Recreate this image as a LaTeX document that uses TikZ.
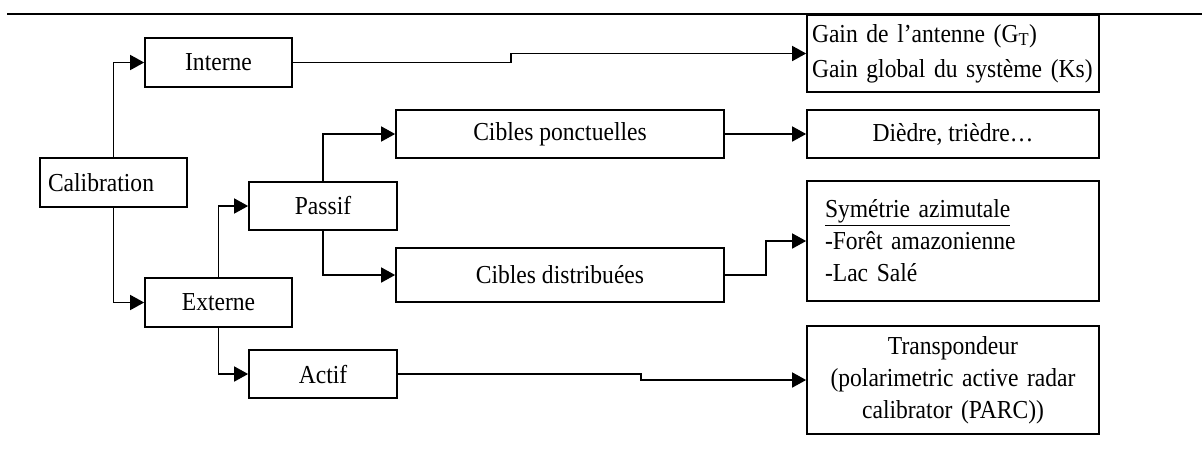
\documentclass[tikz,border=0pt]{standalone}
\usepackage{fontspec}
\setmainfont{Liberation Serif}[FakeStretch=0.91]
\usetikzlibrary{arrows.meta}
\begin{document}
\begin{tikzpicture}[x=1pt,y=-1pt,
  box/.style={draw,line width=1.7pt,rectangle,inner sep=0pt,minimum width=#1},
  box/.default=147pt,
  conn/.style={line width=1.6pt,-{Triangle[length=14pt,width=15pt]}},
  every node/.style={font=\fontsize{25.9}{32}\selectfont}]
\useasboundingbox (0,0) rectangle (1202,451);
\draw[line width=2.2pt] (7,14) -- (1202,14);
% left column
\node[box,minimum height=49pt,text width=131pt,align=left] (cal) at (113.5,182.5) {Calibration};
\node[box,minimum height=49pt] (int) at (218.5,62.5) {Interne};
\node[box,minimum height=49pt] (ext) at (218.5,302.5) {Externe};
\node[box=148pt,minimum height=48pt] (pas) at (323,206) {Passif};
\node[box=148pt,minimum height=48pt] (act) at (323,374) {Actif};
\node[box=328pt,minimum height=48pt] (cp) at (560,134) {Cibles ponctuelles};
\node[box=328pt,minimum height=54pt] (cd) at (560,275) {Cibles distribuées};
% right column
\node[box=292pt,minimum height=77pt,text width=282pt,align=left] (gain) at (953,53.5)
  {Gain de l’antenne (G\textsubscript{T})\\[3pt]Gain global du système (Ks)};
\node[box=292pt,minimum height=48pt] (die) at (953,134) {Dièdre, trièdre…};
\node[box=292pt,minimum height=120pt,text width=256pt,align=left] (sym) at (953,241)
  {\underline{Symétrie azimutale}\\-Forêt amazonienne\\-Lac Salé};
\node[box=292pt,minimum height=108pt,text width=282pt,align=center] (tr) at (953,380)
  {Transpondeur\\(polarimetric active radar\\calibrator (PARC))};
% connectors
\draw[conn] (cal.north) |- (int.west);
\draw[conn] (cal.south) |- (ext.west);
\draw[conn] (ext.north) |- (pas.west);
\draw[conn] (ext.south) |- (act.west);
\draw[conn] (pas.north) |- (cp.west);
\draw[conn] (pas.south) |- (cd.west);
\draw[conn] (cp.east) -- (die.west);
\draw[conn] (int.east) -- ++(218,0) |- (gain.west);
\draw[conn] (cd.east) -- ++(41,0) |- (sym.west);
\draw[conn] (act.east) -- ++(243,0) |- (tr.west);
\end{tikzpicture}
\end{document}
